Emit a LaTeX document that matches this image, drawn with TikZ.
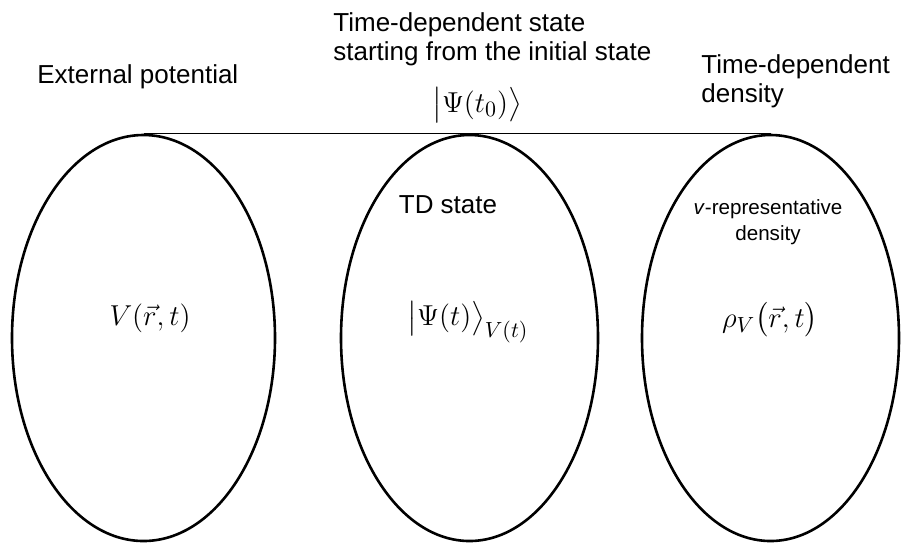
\documentclass[tikz,border=0pt]{standalone}
\usepackage{fontspec,amsmath}
\setmainfont{Liberation Sans}
\usetikzlibrary{shapes.geometric}
\tikzset{
 region/.style={draw,ellipse,line width=1.3pt,inner sep=0pt,minimum width=#1,minimum height=203pt},
 caption/.style={font=\fontsize{13}{14.2}\selectfont,inner sep=0pt},
 smallcap/.style={font=\fontsize{10.3}{13}\selectfont,inner sep=0pt,align=center},
 formula/.style={font=\fontsize{15}{18}\selectfont,inner sep=0pt}
}

\begin{document}
\begin{tikzpicture}[x=0.5pt,y=-0.5pt]
\useasboundingbox (0,0) rectangle (903,543);
% the three sets
\node[region=131.5pt] (pot) at (143.5,338) {};
\node[region=128.5pt] (state) at (469.5,338) {};
\node[region=128.5pt] (dens) at (770.5,338) {};
\draw[line width=0.5pt] (pot.north) -- (dens.north);
% captions
\node[caption,anchor=base west] (potcap) at (37,83) {External potential};
\node[caption,align=left,anchor=base west] (initcap) at (333,60)
 {Time-dependent state\\starting from the initial state};
\node[caption,align=left,anchor=base west] (denscap) at (701,102)
 {Time-dependent\\density};
\node[caption,anchor=base] (tdcap) at (448,213) {TD state};
\node[smallcap,anchor=base] (vrep) at (768,240) {\textit{v}-representative\\density};
% formulas
\node[formula] (initpsi) at (477,105) {$\bigl|\Psi(t_0)\bigr\rangle$};
\node[formula] (potf) at (150,318) {$V(\vec{r},t)$};
\node[formula] (statef) at (468,322) {$\bigl|\Psi(t)\bigr\rangle_{V(t)}$};
\node[formula] (densf) at (770,320) {$\rho_V\bigl(\vec{r},t\bigr)$};
\end{tikzpicture}
\end{document}
